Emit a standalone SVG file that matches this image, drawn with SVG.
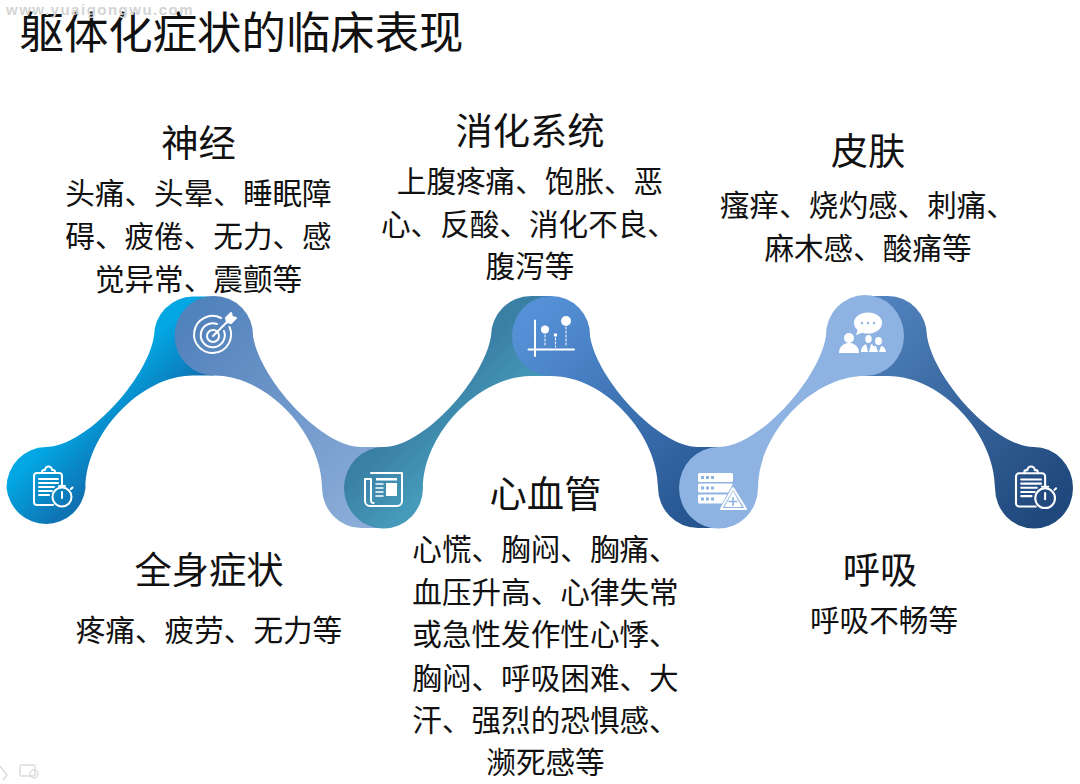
<svg xmlns="http://www.w3.org/2000/svg" width="1080" height="784" viewBox="0 0 1080 784">
<style>
text{font-family:"Noto Sans CJK SC","Liberation Sans",sans-serif;fill:#111;text-anchor:middle}
.t{font-size:44.400px}.h{font-size:37.300px}.b{font-size:29.600px}
.s{fill:none;stroke:#fff;stroke-width:2;stroke-linecap:round;stroke-linejoin:round}
.w{fill:#fff}
.wm{font-family:"Liberation Sans",sans-serif;font-size:15px;font-weight:700;fill:#d4d4d4;text-anchor:start;letter-spacing:1.500px}
</style>
<defs>
<linearGradient id="g1" gradientUnits="userSpaceOnUse" x1="245" y1="245" x2="288" y2="288"><stop offset="0" stop-color="#02a7e4"/><stop offset="1" stop-color="#0f73b3"/></linearGradient>
<linearGradient id="g2" gradientUnits="userSpaceOnUse" x1="255" y1="255" x2="442" y2="442"><stop offset="0" stop-color="#5282bc"/><stop offset="1" stop-color="#8cadd8"/></linearGradient>
<linearGradient id="g3" gradientUnits="userSpaceOnUse" x1="415" y1="415" x2="460" y2="460"><stop offset="0" stop-color="#3a80a5"/><stop offset="1" stop-color="#469bbb"/></linearGradient>
<linearGradient id="g4" gradientUnits="userSpaceOnUse" x1="425" y1="425" x2="607" y2="607"><stop offset="0" stop-color="#5590d6"/><stop offset="1" stop-color="#26558f"/></linearGradient>
<linearGradient id="g6" gradientUnits="userSpaceOnUse" x1="594" y1="594" x2="780" y2="780"><stop offset="0" stop-color="#5082bd"/><stop offset="1" stop-color="#1f487c"/></linearGradient>
<g id="clip">
<path class="s" d="M53 505H37a3 3 0 0 1-3-3V476a3 3 0 0 1 3-3H59a3 3 0 0 1 3 3V485"/>
<path class="s" d="M42 473v-1a2 2 0 0 1 2-2h1a3.500 3.500 0 0 1 7 0h1a2 2 0 0 1 2 2v1"/>
<path class="s" d="M39 479H58M39 483H58M39 487H54M39 491H52M39 495H49"/>
<circle class="s" cx="62" cy="497" r="9.500"/>
<path class="s" d="M62 492V498M59 486H65M71 489l1.500-1.500"/>
</g>
</defs>

<g id="ribbons">
<g id="stage-1">
<path fill="url(#g1)" d="M46 447C85 447 147 380 154 336A39.500 39.500 0 0 1 193 296.500H214V375.500H193C140 375.500 85.500 435 85.500 488A39.750 40.500 0 0 1 6.500 488A39.750 41 0 0 1 46 447Z"/>
<g><use href="#clip"/></g>
</g>
<g id="stage-2">
<path fill="url(#g2)" d="M214 296A39 39 0 0 1 253 336C260 380 322 447 361 447H384V528H361A39 40.500 0 0 1 322 488C322 435 268 375.500 214 375.500A39.500 39.750 0 0 1 214 296Z"/>
<g class="s">
<path d="M229.500 327A18.500 18.500 0 1 1 221 318"/>
<path d="M224 331A12 12 0 1 1 217 324"/>
<circle cx="213" cy="336" r="6"/>
<path d="M213 336L228 321"/>
<path d="M226 318L231 313L232 317L236 318L231 323L227 322Z" fill="#fff"/>
</g>
</g>
<g id="stage-3">
<path fill="url(#g3)" d="M384 447C423 447 484 380 491 336A40 40 0 0 1 531 296H551V376H531C478 376 423 435 423 488A39.500 40.500 0 0 1 344 488A39.500 41 0 0 1 384 447Z"/>
<g class="s">
<path d="M371 473H402V501a5 5 0 0 1-5 5H370a5 5 0 0 1-5-5V479H371V500a2.500 2.500 0 0 0 2.500 3"/>
<rect x="376" y="478" width="21" height="2.500" class="w" stroke="none"/>
<rect x="386" y="483" width="11" height="13" class="w" stroke="none"/>
<path d="M376 484H383M376 488H383M376 492H383M376 496H383" stroke-width="1.500"/>
</g>
</g>
<g id="stage-4">
<path fill="url(#g4)" d="M551 296A39 39 0 0 1 590 336C597 380 659 447 698 447H719V528H698A40 40.500 0 0 1 658 488C658 435 605 376 551 376A39 40 0 0 1 551 296Z"/>
<g class="s">
<path d="M535 320.500V356M528.500 349.500H574"/>
<circle class="w" cx="545" cy="329.500" r="4" stroke="none"/>
<circle class="w" cx="555.500" cy="335" r="1.800" stroke="none"/>
<circle class="w" cx="566" cy="321" r="5" stroke="none"/>
<path d="M545 335V347M555.500 338V347M566 327V347" stroke-width="1" stroke-dasharray="2 2"/>
</g>
</g>
<g id="stage-6">
<path fill="url(#g6)" d="M865 296H888A39 40 0 0 1 927 336C934 380 995 447 1034 447A39 41 0 0 1 1073 488A39 40.500 0 0 1 995 488C995 435 942 376 888 376H865Z"/>
<use href="#clip" transform="translate(1016 467) scale(1.040) translate(-34 -467)"/>
</g>
<g id="stage-5">
<path fill="#8eb3e2" d="M719 447C758 447 819 380 826 336A39 40 0 0 1 865 295A39 41 0 0 1 904 336A39 40 0 0 1 865 376C811 376 758 435 758 488A39.500 40.500 0 0 1 679 488A39.500 41 0 0 1 719 447Z"/>
<g class="w">
<rect x="698" y="473" width="35" height="9" rx="1.500"/>
<rect x="698" y="483.500" width="35" height="9" rx="1.500"/>
<rect x="698" y="494.500" width="35" height="9" rx="1.500"/>
</g>
<g fill="#8eb3e2">
<path d="M701 476h3v3h-3zM706 476h3v3h-3zM711 476h3v3h-3zM701 486.500h3v3h-3zM706 486.500h3v3h-3zM711 486.500h3v3h-3zM701 497.500h3v3h-3zM706 497.500h3v3h-3zM711 497.500h3v3h-3z"/>
<path d="M733 484L718 511H749Z"/>
</g>
<path class="s" d="M733 488L721 509H746Z" stroke-width="1.500"/>
<path class="w" d="M733 491L724.500 507H742Z"/>
<path d="M733 497V506M728.500 501.500H737.500" stroke="#8eb3e2" stroke-width="1.600" fill="none"/>
<g class="w">
<ellipse cx="868" cy="323" rx="14" ry="10.500"/>
<path d="M858 329L856 335L864 332Z"/>
<circle cx="849" cy="338" r="5"/>
<path d="M839 353C839 346 844 344 847 343H851C854 344 859 346 859 353Z"/>
<ellipse cx="868.500" cy="339" rx="3.200" ry="4"/>
<path d="M861 352C861 347 864 345 866 344L868 352ZM869 352L871 344C873 345 875 346 875.500 352Z"/>
<ellipse cx="878.500" cy="341" rx="3.400" ry="4"/>
<path d="M871 352C871 348 874 346 876 346L878 352ZM879 352L881 346C883 346 885.500 348 886 352Z"/>
</g>
<circle cx="862" cy="323" r="1.200" fill="#8eb3e2"/><circle cx="868" cy="323" r="1.200" fill="#8eb3e2"/><circle cx="874" cy="323" r="1.200" fill="#8eb3e2"/>
</g>
</g>

<text class="t" x="241.500" y="49">躯体化症状的临床表现</text>
<text class="wm" x="6" y="15">www.yuaigongwu.com</text>

<g id="label-shenjing">
<text class="h" x="198.500" y="157">神经</text>
<text class="b" x="198.500" y="204">头痛、头晕、睡眠障</text>
<text class="b" x="198.500" y="247">碍、疲倦、无力、感</text>
<text class="b" x="198.500" y="290">觉异常、震颤等</text>
</g>
<g id="label-xiaohua">
<text class="h" x="530" y="145">消化系统</text>
<text class="b" x="530" y="192">上腹疼痛、饱胀、恶</text>
<text class="b" x="529" y="235">心、反酸、消化不良、</text>
<text class="b" x="530" y="277">腹泻等</text>
</g>
<g id="label-pifu">
<text class="h" x="868" y="165">皮肤</text>
<text class="b" x="868" y="216">瘙痒、烧灼感、刺痛、</text>
<text class="b" x="868" y="259">麻木感、酸痛等</text>
</g>
<g id="label-quanshen">
<text class="h" x="209" y="584">全身症状</text>
<text class="b" x="209" y="641">疼痛、疲劳、无力等</text>
</g>
<g id="label-xinxueguan">
<text class="h" x="545.500" y="508">心血管</text>
<text class="b" x="545.500" y="560">心慌、胸闷、胸痛、</text>
<text class="b" x="545.500" y="603">血压升高、心律失常</text>
<text class="b" x="545.500" y="645">或急性发作性心悸、</text>
<text class="b" x="545.500" y="689">胸闷、呼吸困难、大</text>
<text class="b" x="545.500" y="731">汗、强烈的恐惧感、</text>
<text class="b" x="545.500" y="773">濒死感等</text>
</g>
<g id="label-huxi">
<text class="h" x="880" y="584">呼吸</text>
<text class="b" x="884" y="631">呼吸不畅等</text>
</g>
<g id="corner" fill="none" stroke="#dcdcdc" stroke-width="1.500">
<path d="M0 766L7 775L3 780"/>
<rect x="20" y="765" width="15" height="11" rx="1.500"/>
<circle cx="34" cy="774" r="4"/>
</g>
</svg>
